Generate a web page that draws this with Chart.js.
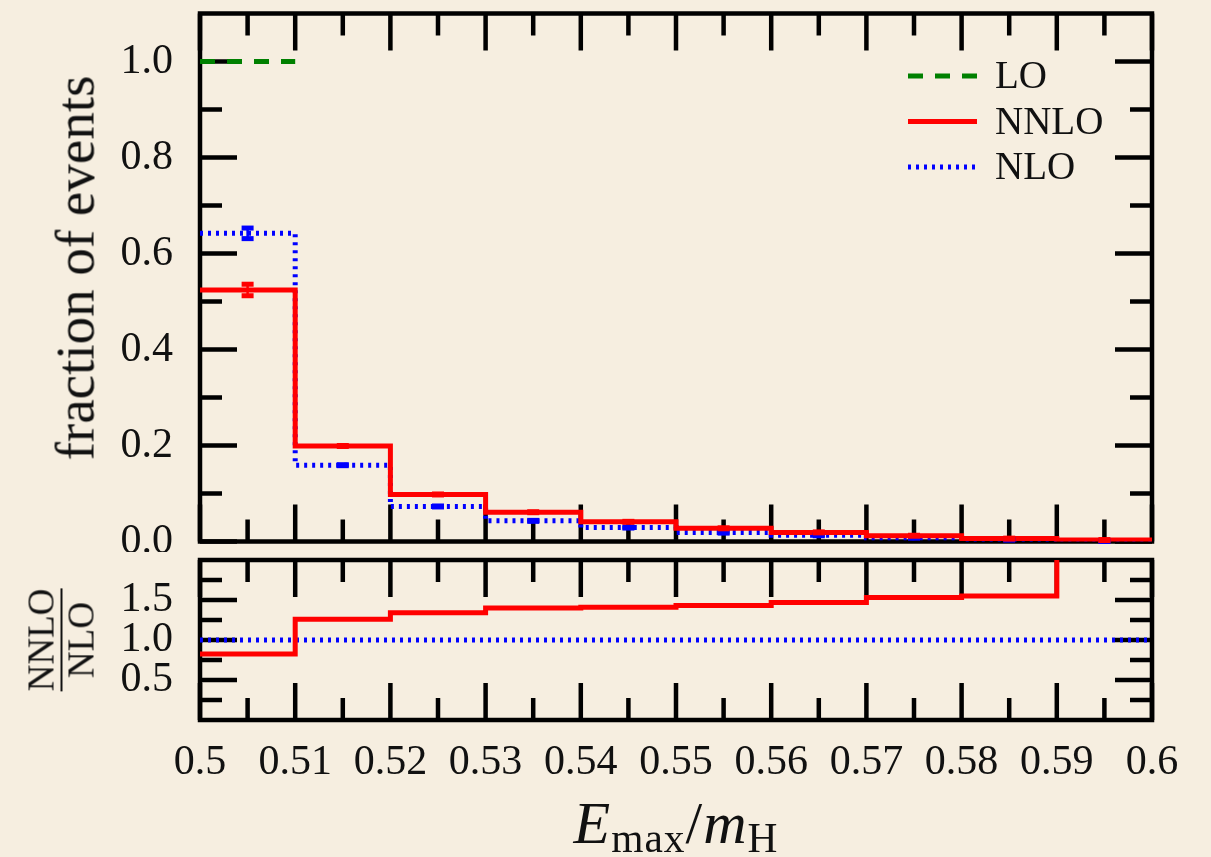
<!DOCTYPE html>
<html>
<head>
<meta charset="utf-8">
<script src="https://cdn.jsdelivr.net/npm/chart.js@4.4.1/dist/chart.umd.min.js"></script>
<style>
html,body{margin:0;padding:0;background:#F6EEE0;}
#wrap{position:relative;width:1211px;height:857px;background:#F6EEE0;overflow:hidden;font-family:'Liberation Serif','Times New Roman',serif;color:#111;}
canvas{position:absolute;left:0;}
#c1{top:0;}
#c2{top:552px;}
.ytitle{position:absolute;left:74.5px;top:267.5px;transform:translate(-50%,-50%) rotate(-90deg);font-size:55px;line-height:1;white-space:nowrap;}
.xtitle{position:absolute;left:676px;top:793px;transform:translateX(-50%);font-size:60px;line-height:1;white-space:nowrap;letter-spacing:1px;}
.xtitle sub{font-size:0.69em;vertical-align:baseline;position:relative;top:0.22em;font-style:normal;}
.rtitle{position:absolute;left:60.5px;top:640px;transform:translate(-50%,-50%) rotate(-90deg);font-size:37px;line-height:1;display:flex;flex-direction:column;align-items:stretch;text-align:center;white-space:nowrap;}
.rtitle .bar{height:2px;background:#111;margin:1px 0 0 0;}
</style>
</head>
<body>
<div id="wrap">
  <canvas id="c1" width="1211" height="552"></canvas>
  <canvas id="c2" width="1211" height="305"></canvas>
  <div class="ytitle">fraction of events</div>
  <div class="rtitle"><span>NNLO</span><span class="bar"></span><span>NLO</span></div>
  <div class="xtitle"><i>E</i><sub>max</sub>/<i>m</i><sub>H</sub></div>
</div>
<script>
// ---------- data ----------
const binEdges = [0.50, 0.51, 0.52, 0.53, 0.54, 0.55, 0.56, 0.57, 0.58, 0.59, 0.60];
const seriesNames = ['LO', 'NNLO', 'NLO'];
const loValues   = [1.0, null, null, null, null, null, null, null, null, null];
const nnloValues = [0.524, 0.199, 0.098, 0.061, 0.041, 0.0275, 0.019, 0.012, 0.006, 0.003];
const nloValues  = [0.642, 0.159, 0.073, 0.043, 0.029, 0.0185, 0.013, 0.0079, 0.0039, 0.001];
const nnloErrors = [0.012, 0.001, 0.001, 0.001, 0.001, 0.001, 0.001, 0.001, 0.001, 0.001];
const nloErrors  = [0.011, 0.001, 0.001, 0.001, 0.001, 0.001, 0.001, 0.001, 0.001, 0.001];
const ratioNNLO  = [0.825, 1.26, 1.34, 1.40, 1.41, 1.43, 1.47, 1.53, 1.55, 3.0];
const ratioNLO   = [1, 1, 1, 1, 1, 1, 1, 1, 1, 1];

const xTickValues = [0.50, 0.51, 0.52, 0.53, 0.54, 0.55, 0.56, 0.57, 0.58, 0.59, 0.60];
const xTickLabels = ['0.5', '0.51', '0.52', '0.53', '0.54', '0.55', '0.56', '0.57', '0.58', '0.59', '0.6'];
const xMinorTicks = [0.505, 0.515, 0.525, 0.535, 0.545, 0.555, 0.565, 0.575, 0.585, 0.595];
const yTopTickValues = [0.0, 0.2, 0.4, 0.6, 0.8, 1.0];
const yTopTickLabels = ['0.0', '0.2', '0.4', '0.6', '0.8', '1.0'];
const yTopMinorTicks = [0.1, 0.3, 0.5, 0.7, 0.9];
const yRatioTickValues = [0.5, 1.0, 1.5];
const yRatioTickLabels = ['0.5', '1.0', '1.5'];
const yRatioMinorTicks = [0.25, 0.75, 1.25, 1.75];

// ---------- helpers ----------
const FONT = "'Liberation Serif', 'Times New Roman', serif";
const RED = '#ff0000', BLUE = '#0000ff', GREEN = '#008000', INK = '#111111';

function histPoints(edges, vals) {
  const pts = [];
  for (let i = 0; i < vals.length; i++) {
    if (vals[i] === null) { pts.push({x: edges[i], y: null}); continue; }
    pts.push({x: edges[i], y: vals[i]});
    pts.push({x: edges[i + 1], y: vals[i]});
  }
  return pts;
}

const frameTicksPlugin = {
  id: 'frameTicks',
  beforeDatasetsDraw(chart, args, o) {
    const {ctx, chartArea: a, scales} = chart;
    const xs = scales.x, ys = scales.y;
    ctx.save();
    ctx.strokeStyle = '#000';
    ctx.lineWidth = o.lw;
    ctx.lineCap = 'butt';
    ctx.beginPath();
    const seg = (x1, y1, x2, y2) => { ctx.moveTo(x1, y1); ctx.lineTo(x2, y2); };
    o.xMajor.forEach(v => { const p = xs.getPixelForValue(v); seg(p, a.bottom, p, a.bottom - o.major); seg(p, a.top, p, a.top + o.major); });
    o.xMinor.forEach(v => { const p = xs.getPixelForValue(v); seg(p, a.bottom, p, a.bottom - o.minor); seg(p, a.top, p, a.top + o.minor); });
    o.yMajor.forEach(v => { const p = ys.getPixelForValue(v); seg(a.left, p, a.left + o.major, p); seg(a.right, p, a.right - o.major, p); });
    o.yMinor.forEach(v => { const p = ys.getPixelForValue(v); seg(a.left, p, a.left + o.minor, p); seg(a.right, p, a.right - o.minor, p); });
    ctx.stroke();
    ctx.lineJoin = 'miter';
    ctx.strokeRect(a.left, a.top, a.right - a.left, a.bottom - a.top);
    ctx.restore();
  }
};

const errorBarPlugin = {
  id: 'errorBars',
  afterDatasetsDraw(chart, args, o) {
    if (!o.sets) return;
    const {ctx, scales} = chart;
    const xs = scales.x, ys = scales.y;
    ctx.save();
    o.sets.forEach(s => {
      ctx.strokeStyle = s.color; ctx.fillStyle = s.color; ctx.lineWidth = 2.5;
      s.values.forEach((v, i) => {
        const cx = xs.getPixelForValue((binEdges[i] + binEdges[i + 1]) / 2);
        const y1 = ys.getPixelForValue(v + s.errors[i]);
        const y2 = ys.getPixelForValue(v - s.errors[i]);
        ctx.beginPath(); ctx.moveTo(cx, y1); ctx.lineTo(cx, y2); ctx.stroke();
        ctx.fillRect(cx - 6, y1 - 2.5, 12, 5);
        ctx.fillRect(cx - 6, y2 - 2.5, 12, 5);
      });
    });
    ctx.restore();
  }
};

const legendPlugin = {
  id: 'histLegend',
  afterDraw(chart, args, o) {
    if (!o.items) return;
    const {ctx, chartArea: a} = chart;
    ctx.save();
    const x0 = a.right - 244, x1 = a.right - 175, tx = a.right - 157;
    o.items.forEach((it, k) => {
      const y = a.top + 62.5 + k * 45.5;
      ctx.strokeStyle = it.color; ctx.lineWidth = 5; ctx.setLineDash(it.dash);
      ctx.beginPath(); ctx.moveTo(x0, y); ctx.lineTo(x1, y); ctx.stroke();
      ctx.setLineDash([]);
      ctx.fillStyle = INK; ctx.font = '39px ' + FONT; ctx.textBaseline = 'middle'; ctx.textAlign = 'left';
      ctx.fillText(it.label, tx, y + 2);
    });
    ctx.restore();
  }
};

const commonDS = {pointRadius: 0, pointHoverRadius: 0, borderWidth: 5, tension: 0, spanGaps: false, fill: false};

function yAxis(min, max, vals, labels) {
  return {
    type: 'linear', min: min, max: max,
    afterBuildTicks: s => { s.ticks = vals.map(v => ({value: v})); },
    afterFit: s => { s.width = 200; s.paddingTop = 0; s.paddingBottom = 0; },
    grid: {display: false, drawTicks: false},
    border: {display: false},
    ticks: {padding: 27, autoSkip: false, color: INK, font: {family: FONT, size: 42}, callback: (v, i) => labels[i]}
  };
}

// ---------- top panel ----------
new Chart(document.getElementById('c1'), {
  type: 'line',
  data: {
    datasets: [
      Object.assign({label: seriesNames[1], data: histPoints(binEdges, nnloValues), borderColor: RED}, commonDS),
      Object.assign({label: seriesNames[2], data: histPoints(binEdges, nloValues), borderColor: BLUE, borderDash: [3, 5]}, commonDS),
      Object.assign({label: seriesNames[0], data: histPoints(binEdges, loValues), borderColor: GREEN, borderDash: [15, 12]}, commonDS)
    ]
  },
  options: {
    responsive: false, animation: false, events: [],
    layout: {padding: {top: 13.5, bottom: 10.5, left: 0, right: 59}},
    scales: {
      x: {type: 'linear', min: 0.5, max: 0.6, display: false,
          afterFit: s => { s.height = 0; s.paddingLeft = 0; s.paddingRight = 0; }},
      y: yAxis(0, 1.1, yTopTickValues, yTopTickLabels)
    },
    plugins: {
      legend: {display: false}, tooltip: {enabled: false},
      frameTicks: {lw: 4.5, major: 37, minor: 22, xMajor: xTickValues, xMinor: xMinorTicks, yMajor: yTopTickValues, yMinor: yTopMinorTicks},
      errorBars: {sets: [
        {color: BLUE, values: nloValues, errors: nloErrors},
        {color: RED, values: nnloValues, errors: nnloErrors}
      ]},
      histLegend: {items: [
        {label: seriesNames[0], color: GREEN, dash: [15, 12]},
        {label: seriesNames[1], color: RED, dash: []},
        {label: seriesNames[2], color: BLUE, dash: [3, 5]}
      ]}
    }
  },
  plugins: [frameTicksPlugin, errorBarPlugin, legendPlugin]
});

// ---------- ratio panel ----------
new Chart(document.getElementById('c2'), {
  type: 'line',
  data: {
    datasets: [
      Object.assign({label: 'NNLO/NLO', data: histPoints(binEdges, ratioNNLO), borderColor: RED}, commonDS),
      Object.assign({label: 'NLO/NLO', data: histPoints(binEdges, ratioNLO), borderColor: BLUE, borderDash: [3, 5]}, commonDS)
    ]
  },
  options: {
    responsive: false, animation: false, events: [],
    layout: {padding: {top: 8, bottom: 0, left: 0, right: 59}},
    scales: {
      x: {
        type: 'linear', min: 0.5, max: 0.6,
        afterBuildTicks: s => { s.ticks = xTickValues.map(v => ({value: v})); },
        afterFit: s => { s.height = 137; s.paddingLeft = 0; s.paddingRight = 0; },
        grid: {display: false, drawTicks: false},
        border: {display: false},
        ticks: {padding: 18, autoSkip: false, maxRotation: 0, minRotation: 0, color: INK, font: {family: FONT, size: 42}, callback: (v, i) => xTickLabels[i]}
      },
      y: yAxis(0, 2.0, yRatioTickValues, yRatioTickLabels)
    },
    plugins: {
      legend: {display: false}, tooltip: {enabled: false},
      frameTicks: {lw: 4.5, major: 37, minor: 22, xMajor: xTickValues, xMinor: xMinorTicks, yMajor: yRatioTickValues, yMinor: yRatioMinorTicks}
    }
  },
  plugins: [frameTicksPlugin]
});
</script>
</body>
</html>
